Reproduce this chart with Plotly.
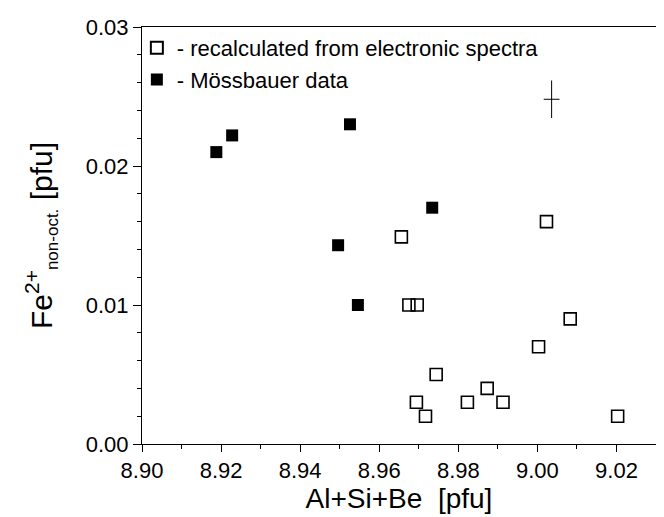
import plotly.graph_objects as go

# Open squares: recalculated from electronic spectra
open_x = [8.9656, 9.0023, 8.9675, 8.9696, 9.0083, 9.0003, 8.9744, 8.9873, 8.9694, 8.9823, 8.9913, 8.9717, 9.0203]
open_y = [0.0149, 0.0160, 0.0100, 0.0100, 0.0090, 0.0070, 0.0050, 0.0040, 0.0030, 0.0030, 0.0030, 0.0020, 0.0020]

# Filled squares: Mössbauer data
moss_x = [8.9188, 8.9228, 8.9526, 8.9734, 8.9496, 8.9546]
moss_y = [0.0210, 0.0222, 0.0230, 0.0170, 0.0143, 0.0100]

# Error cross (typical uncertainty)
err_x = [9.0036]
err_y = [0.0248]
err_dx = [0.002]
err_dy = [0.00135]

font_family = "Liberation Sans, Arial, sans-serif"

fig = go.Figure()
fig.add_trace(go.Scatter(
    x=open_x, y=open_y, mode="markers",
    name="- recalculated from electronic spectra",
    marker=dict(symbol="square-open", size=12, color="black", line=dict(width=1.6, color="black")),
))
fig.add_trace(go.Scatter(
    x=moss_x, y=moss_y, mode="markers",
    name="- Mössbauer data",
    marker=dict(symbol="square", size=12, color="black"),
))
fig.add_trace(go.Scatter(
    x=err_x, y=err_y, mode="markers", showlegend=False,
    marker=dict(size=1, color="rgba(0,0,0,0)"),
    error_x=dict(type="data", array=err_dx, color="black", thickness=1, width=0),
    error_y=dict(type="data", array=err_dy, color="black", thickness=1, width=0),
))

fig.update_layout(
    width=664, height=517,
    margin=dict(l=134, r=16, t=19, b=81, autoexpand=False),
    paper_bgcolor="white", plot_bgcolor="white",
    font=dict(family=font_family, size=22, color="black"),
    showlegend=True,
    legend=dict(x=-0.01, y=1.0, xanchor="left", yanchor="top",
                bgcolor="rgba(0,0,0,0)", font=dict(size=22),
                tracegroupgap=0, itemsizing="constant"),
    xaxis=dict(
        range=[8.90, 9.03], tick0=8.90, dtick=0.02, tickformat=".2f",
        showline=True, linecolor="black", linewidth=1, mirror=True,
        ticks="outside", ticklen=7, tickcolor="black",
        minor=dict(dtick=0.01, ticks="outside", ticklen=4, tickcolor="black"),
        showgrid=False, zeroline=False, automargin=False,
        tickfont=dict(size=22),
        title=dict(text="Al+Si+Be  [pfu]", font=dict(size=28), standoff=2),
    ),
    yaxis=dict(
        range=[0.0, 0.03], tick0=0, dtick=0.01, tickformat=".2f",
        showline=True, linecolor="black", linewidth=1, mirror=True,
        ticks="outside", ticklen=8, tickcolor="black",
        minor=dict(dtick=0.002, ticks="outside", ticklen=4, tickcolor="black"),
        showgrid=False, zeroline=False, automargin=False,
        tickfont=dict(size=22),
        title=dict(text="Fe<sup>2+</sup><sub><span style='font-size:17px'>non-oct.</span></sub> [pfu]",
                   font=dict(size=30), standoff=24),
    ),
)

fig.write_html("out.html")
